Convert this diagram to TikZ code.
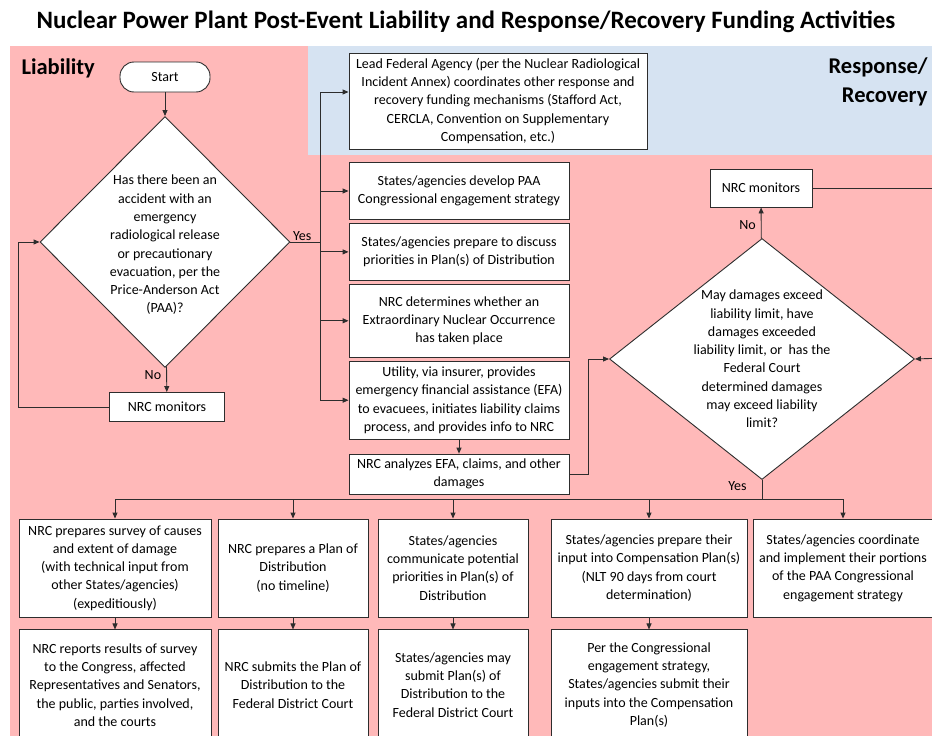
\documentclass[tikz,border=0pt]{standalone}
\usepackage{fontspec}
\setmainfont{Carlito}
\usetikzlibrary{positioning,shapes.geometric,arrows.meta}
\definecolor{liab}{RGB}{255,185,185}
\definecolor{resp}{RGB}{214,227,242}
\definecolor{edgec}{RGB}{45,45,45}

\begin{document}
\begin{tikzpicture}
[x=1pt,y=-1pt,
 every node/.style={font=\fontsize{14}{18.3}\selectfont},
 box/.style={draw=edgec,fill=white,align=center,inner sep=1pt,line width=0.9pt},
 term/.style={box,rounded corners=14pt},
 ask/.style={diamond,draw=edgec,fill=white,inner sep=0pt,line width=0.9pt},
 asktxt/.style={align=center,inner sep=0pt},
 lbl/.style={inner sep=1pt},
 head/.style={font=\fontsize{22.5}{29}\selectfont\bfseries},
 arr/.style={-{Triangle[length=6pt,width=5pt]},draw=edgec,line width=0.9pt},
 lin/.style={draw=edgec,line width=0.9pt}]

\useasboundingbox (0,0) rectangle (932,736);
\clip (0,0) rectangle (932,736);

% the two lanes
\fill[liab] (10,46) rectangle (945,750);
\fill[resp] (308,46) rectangle (945,155);

\node[head,font=\fontsize{25}{29}\selectfont\bfseries] (title) at (466,22) {Nuclear Power Plant Post-Event Liability and Response/Recovery Funding Activities};
\node[head,anchor=west] (liabhd) at (18,68) {Liability};
\node[head,align=right,anchor=east] (resphd) at (931,82) {Response/\\Recovery};

% liability decision
\node[term,minimum width=90,minimum height=30] (start) at (165,77) {Start};
\node[ask,minimum width=250,minimum height=251] (q1) at (165,242) {};
\node[asktxt] (q1t) at ([yshift=-3pt]q1.center) {Has there been an\\accident with an\\emergency\\radiological release\\or precautionary\\evacuation, per the\\Price-Anderson Act\\(PAA)?};
\node[box,minimum width=115,minimum height=29] (mon1) at (167,407) {NRC monitors};

% first actions
\node[box,minimum width=298,minimum height=96] (lead) at (498,101) {Lead Federal Agency (per the Nuclear Radiological\\Incident Annex) coordinates other response and\\recovery funding mechanisms (Stafford Act,\\CERCLA, Convention on Supplementary\\Compensation, etc.)};
\node[box,minimum width=220,minimum height=57] (paa) at (459,191) {States/agencies develop PAA\\Congressional engagement strategy};
\node[box,minimum width=220,minimum height=57] (prio) [below=3pt of paa] {States/agencies prepare to discuss\\priorities in Plan(s) of Distribution};
\node[box,minimum width=220,minimum height=73] (enoc) [below=3pt of prio] {NRC determines whether an\\Extraordinary Nuclear Occurrence\\has taken place};
\node[box,minimum width=220,minimum height=78] (efa) [below=3pt of enoc] {Utility, via insurer, provides\\emergency financial assistance (EFA)\\to evacuees, initiates liability claims\\process, and provides info to NRC};
\node[box,minimum width=220,minimum height=40] (dmg) [below=14pt of efa] {NRC analyzes EFA, claims, and other\\damages};

% limit decision
\node[ask,minimum width=305,minimum height=241] (q2) at (762,359) {};
\node[asktxt] (q2t) at (q2.center) {May damages exceed\\liability limit, have\\damages exceeded\\liability limit, or\ \ has the\\Federal Court\\determined damages\\may exceed liability\\limit?};
\node[box,minimum width=102,minimum height=38] (mon2) at (761,188) {NRC monitors};

% after the limit is reached
\node[box,minimum width=192,minimum height=98] (surv) at (115,568) {NRC prepares survey of causes\\and extent of damage\\(with technical input from\\other States/agencies)\\(expeditiously)};
\node[box,minimum width=150,minimum height=98] (plan) at (293,568) {NRC prepares a Plan of\\Distribution\\(no timeline)};
\node[box,minimum width=150,minimum height=98] (comm) at (453,568) {States/agencies\\communicate potential\\priorities in Plan(s) of\\Distribution};
\node[box,minimum width=196,minimum height=98] (comp) at (649,568) {States/agencies prepare their\\input into Compensation Plan(s)\\(NLT 90 days from court\\determination)};
\node[box,minimum width=180,minimum height=98] (coord) at (843,568) {States/agencies coordinate\\and implement their portions\\of the PAA Congressional\\engagement strategy};
\node[box,minimum width=192,minimum height=110] (rept) [below=12pt of surv] {NRC reports results of survey\\to the Congress, affected\\Representatives and Senators,\\the public, parties involved,\\and the courts};
\node[box,minimum width=150,minimum height=110] (subm) [below=12pt of plan] {NRC submits the Plan of\\Distribution to the\\Federal District Court};
\node[box,minimum width=150,minimum height=110] (mays) [below=12pt of comm] {States/agencies may\\submit Plan(s) of\\Distribution to the\\Federal District Court};
\node[box,minimum width=196,minimum height=110] (inpt) [below=12pt of comp] {Per the Congressional\\engagement strategy,\\States/agencies submit their\\inputs into the Compensation\\Plan(s)};

% connectors
\coordinate (trunk) at (320,242);
\coordinate (back1) at (18,242);
\coordinate (rise) at (588,359);
\coordinate (bus) at (762,499);
\coordinate (out) at (945,358);

\draw[arr] (start) -- (q1);
\draw[arr] (q1) -- node[lbl,pos=0.35,left=4pt]{No} (mon1);
\draw[arr] (mon1.west) -| (back1) -- (q1.west);
\draw[lin] (q1.east) -- node[lbl,above,pos=0.4]{Yes} (trunk);
\draw[lin] (trunk |- 0,92) -- (trunk |- efa);
\draw[arr] (trunk |- 0,92) -- (lead.west |- 0,92);
\draw[arr] (trunk |- paa) -- (paa);
\draw[arr] (trunk |- prio) -- (prio);
\draw[arr] (trunk |- enoc) -- (enoc);
\draw[arr] (trunk |- efa) -- (efa);
\draw[arr] (efa) -- (dmg);
\draw[arr] (dmg.east) -| (rise) -- (q2.west);
\draw[arr] (q2) -- node[lbl,pos=0.45,left=4pt]{No} (mon2);
\draw[lin] (mon2.east) -| (out);
\draw[arr] (out) -- (q2.east);
\draw[lin] (q2.south) -- node[lbl,pos=0.3,left=14pt]{Yes} (bus);
\draw[lin] (surv.north |- bus) -- (coord.north |- bus);
\foreach \n in {surv,plan,comm,comp,coord}
  \draw[arr] (\n.north |- bus) -- (\n.north);
\draw[arr] (surv) -- (rept);
\draw[arr] (plan) -- (subm);
\draw[arr] (comm) -- (mays);
\draw[arr] (comp) -- (inpt);
\end{tikzpicture}
\end{document}
